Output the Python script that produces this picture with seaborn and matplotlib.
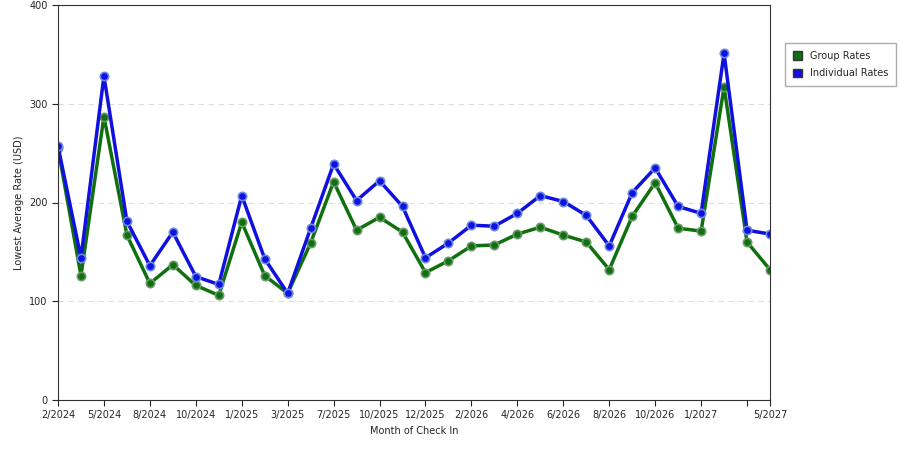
import matplotlib

matplotlib.use("Agg")
import matplotlib.pyplot as plt
import pandas as pd
import seaborn as sns

tick_text = ["2/2024", "", "5/2024", "", "8/2024", "", "10/2024", "", "1/2025", "", "3/2025", "",
             "7/2025", "", "10/2025", "", "12/2025", "", "2/2026", "", "4/2026", "", "6/2026", "",
             "8/2026", "", "10/2026", "", "1/2027", "", "", "5/2027"]
individual = [257, 144, 328, 181, 136, 170, 125, 117, 207, 143, 108, 174, 239, 202, 222, 196,
              144, 159, 177, 176, 189, 207, 201, 187, 156, 210, 235, 196, 189, 351, 172, 168]
group = [255, 126, 287, 167, 118, 137, 116, 106, 180, 126, 108, 159, 221, 172, 185, 170,
         129, 141, 156, 157, 168, 175, 167, 160, 132, 186, 220, 174, 171, 317, 160, 132]

idx = list(range(len(tick_text)))
df = pd.concat([
    pd.DataFrame({"pos": idx, "rate": group, "series": "Group Rates"}),
    pd.DataFrame({"pos": idx, "rate": individual, "series": "Individual Rates"}),
])

sns.set_style("white")
plt.rcParams["font.family"] = ["DejaVu Sans"]
fig = plt.figure(figsize=(9, 4.5), dpi=100)
ax = fig.add_axes([58 / 900, 50 / 450, 712 / 900, 395 / 450])
palette = {"Group Rates": "#107010", "Individual Rates": "#1010e0"}
for name, mec in [("Group Rates", "#6a9a6a"), ("Individual Rates", "#6a8ae0")]:
    sub = df[df.series == name]
    sns.lineplot(sub, x="pos", y="rate", color=palette[name], lw=2.5, marker="o", ms=6,
                 mec=mec, mew=1.2, ax=ax, label=name)

ax.set_xlim(0, len(idx) - 1)
ax.set_ylim(0, 400)
ax.set_yticks([0, 100, 200, 300, 400])
ax.yaxis.grid(True, ls=(0, (5, 4)), color="#dddddd", lw=0.8)
tp = [i for i, t in enumerate(tick_text) if t or i == 30]
ax.set_xticks(tp)
ax.set_xticklabels([tick_text[i] for i in tp])
ax.tick_params(labelsize=7, length=4, direction="out", bottom=True, left=True)
ax.set_xlabel("Month of Check In", fontsize=7)
ax.set_ylabel("Lowest Average Rate (USD)", fontsize=7)
for s in ax.spines.values():
    s.set_color("#333333")
    s.set_linewidth(0.8)

handles = [plt.Rectangle((0, 0), 1, 1, fc=palette[k], ec="#333333") for k in palette]
fig.legend(handles, list(palette), loc="upper left", bbox_to_anchor=(780 / 900, 1 - 38 / 450),
           fontsize=7, frameon=True, edgecolor="#999999", fancybox=False,
           handlelength=1.0, handleheight=1.0, borderpad=0.8, labelspacing=0.8)
ax.get_legend().remove()
fig.savefig("out.png", dpi=100)
